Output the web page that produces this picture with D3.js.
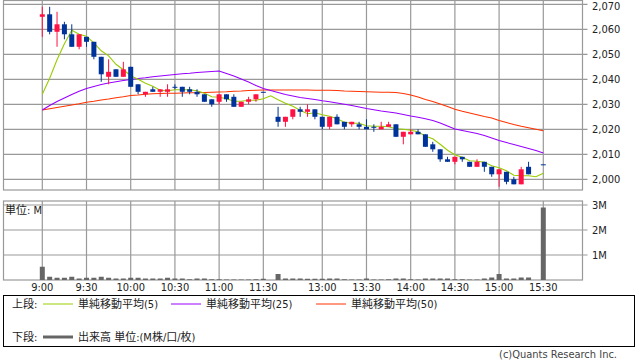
<!DOCTYPE html>
<html>
<head>
<meta charset="utf-8">
<script src="https://cdn.jsdelivr.net/npm/d3@7/dist/d3.min.js"></script>
<style>
  body { margin: 0; background: #fff; }
  svg { display: block; }
  text { font-family: "DejaVu Sans Condensed", "Noto Sans CJK JP", sans-serif; fill: #222; }
</style>
</head>
<body>
<svg id="chart" width="638" height="362"></svg>
<script>
// 5-minute slots, 0 = 9:00 ... 68 = 15:30 (slots 31 and 67 have no trade)
const opens  = [2065,2066,2059,2062,2058,2053,2057,2055,2049,2041,2044,2041,2045,2038,2034,2036,2035,2035,2037,2037,
                2036,2035,2034,2032,2031,2034,2033,2029,2031,2032,2035,null,2025,2023,2025,2028,2027,2028,2025,2021,
                2025,2023,2022,2022,2021,2021,2020,2021,2022,2017,2018,2019,2018,2014,2012,2008,2007,2009,2007,2005,
                2007,2005,2002,2003,2000,1998,2005,null,2006];
const highs  = [2069,2069,2067,2063,2062,2058,2057,2055,2049,2048,2044,2047,2045,2038,2035,2037,2036,2038,2038,2037,
                2037,2036,2034,2032,2034,2034,2034,2031,2033,2034,2035,null,2029,2025,2028,2029,2030,2028,2025,2025,
                2026,2023,2023,2023,2024,2022,2023,2023,2022,2019,2020,2020,2018,2015,2012,2009,2009,2009,2007,2008,
                2007,2005,2004,2003,2001,2005,2007,null,2006];
const lows   = [2057,2058,2053,2056,2053,2052,2053,2048,2039,2038,2041,2041,2037,2034,2033,2035,2033,2033,2036,2033,
                2034,2033,2031,2029,2030,2031,2029,2029,2030,2031,2035,null,2021,2021,2024,2025,2025,2024,2020,2020,
                2022,2020,2021,2020,2020,2019,2020,2021,2017,2014,2018,2018,2013,2011,2007,2007,2006,2007,2005,2005,
                2003,2001,1997,1998,1998,1998,2002,null,2006];
const closes = [2066,2059,2062,2058,2053,2058,2055,2049,2042,2043,2041,2044,2037,2035,2035,2035,2036,2036,2037,2035,
                2035,2034,2031,2030,2034,2032,2029,2031,2032,2034,2035,null,2023,2025,2028,2027,2028,2025,2021,2025,
                2022,2021,2023,2021,2020,2021,2021,2022,2017,2019,2019,2018,2013,2012,2008,2007,2009,2008,2005,2007,
                2005,2002,2004,1999,1998,2004,2002,null,2006];

// moving averages
const ma5  = [2034.0,2040.4,2047.8,2054.2,2059.6,2058.0,2057.2,2054.6,2051.4,2049.4,2046.0,2043.8,2041.4,2040.0,2038.4,2037.2,2035.6,2035.4,2035.8,2035.8,
              2035.8,2035.4,2034.4,2033.0,2032.8,2032.2,2031.2,2031.2,2031.6,2031.6,2032.2,2033.4,2031.8,2030.4,2029.2,2027.6,2026.2,2026.6,2025.8,2025.2,
              2024.2,2022.8,2022.4,2022.4,2021.4,2021.2,2021.2,2021.0,2020.2,2020.0,2019.6,2019.0,2017.2,2016.2,2014.0,2011.6,2009.8,2008.8,2007.4,2007.2,
              2006.8,2005.4,2004.6,2003.4,2001.6,2001.4,2001.4,2001.0,2002.4];
const ma25 = [2027.7,2029.5,2031.1,2032.5,2033.9,2035.2,2036.3,2037.1,2037.9,2038.5,2039.0,2039.5,2039.9,2040.3,2040.6,2041.0,2041.3,2041.6,2041.9,2042.2,
              2042.4,2042.7,2042.9,2043.1,2043.3,2042.3,2041.3,2040.1,2038.9,2037.5,2036.3,2035.5,2034.7,2033.9,2033.3,2032.7,2032.3,2031.9,2031.4,2031.0,
              2030.5,2030.0,2029.5,2028.9,2028.3,2027.8,2027.3,2026.9,2026.5,2025.9,2025.3,2024.8,2024.2,2023.5,2022.5,2021.3,2020.1,2019.5,2018.9,2018.3,
              2017.5,2016.5,2015.5,2014.7,2013.9,2013.1,2012.3,2011.5,2010.5];
const ma50 = [2027.7,2028.2,2028.7,2029.2,2029.7,2030.2,2030.8,2031.2,2031.7,2032.1,2032.6,2033.0,2033.5,2033.7,2034.0,2034.2,2034.3,2034.4,2034.4,2034.5,
              2034.6,2034.6,2034.7,2034.8,2034.9,2035.0,2035.2,2035.3,2035.5,2035.6,2035.7,2035.7,2035.7,2035.7,2035.7,2035.7,2035.7,2035.6,2035.6,2035.6,
              2035.5,2035.3,2035.2,2035.1,2035.0,2034.9,2034.8,2034.8,2034.7,2034.3,2033.7,2032.9,2031.9,2031.1,2030.1,2029.1,2028.0,2027.2,2026.5,2025.8,
              2025.1,2024.5,2023.5,2022.7,2021.9,2021.2,2020.6,2020.0,2019.4];

// volume in millions
const volumes = [0.53,0.13,0.09,0.09,0.13,0.06,0.09,0.09,0.13,0.09,0.06,0.06,0.09,0.09,0.06,0.06,0.06,0.09,0.06,0.06,
                 0.03,0.06,0.06,0.03,0.03,0.02,0.02,0.02,0.02,0.03,0.05,null,0.24,0.06,0.06,0.06,0.05,0.05,0.05,0.06,
                 0.06,0.03,0.02,0.02,0.06,0.02,0.02,0.03,0.06,0.06,0.03,0.02,0.06,0.06,0.06,0.06,0.03,0.03,0.02,0.02,
                 0.06,0.1,0.24,0.06,0.06,0.1,0.1,null,2.9];

const timeTicks  = [0, 6, 12, 18, 24, 30, 38, 44, 50, 56, 62, 68];
const timeLabels = ["9:00","9:30","10:00","10:30","11:00","11:30","13:00","13:30","14:00","14:30","15:00","15:30"];
const priceTicks = [2000, 2010, 2020, 2030, 2040, 2050, 2060, 2070];
const volTicks   = [1, 2, 3];
const volLabels  = ["1M", "2M", "3M"];

const colUp = "#ff1144", colDown = "#003399";
const colMa5 = "#99cc00", colMa25 = "#9900ff", colMa50 = "#ff3300";
const gridCol = "#999";

const svg = d3.select("#chart");
const left = 3.5, right = 582.5;

const x = d3.scaleLinear().domain([0, 68]).range([42.3, 543.3]);
const y = d3.scaleLinear().domain([2000, 2070]).range([179.3, 4.3]);
const yv = d3.scaleLinear().domain([0, 3]).range([280, 205]);

const slots = d3.range(closes.length);

//Grid - price panel
const gPrice = svg.append("g");
gPrice.selectAll(".hgrid").data(priceTicks).enter().append("line")
    .attr("x1", left).attr("x2", right + 5)
    .attr("y1", d => y(d)).attr("y2", d => y(d))
    .attr("stroke", gridCol).attr("stroke-width", 1.2);
gPrice.selectAll(".vgrid").data(timeTicks).enter().append("line")
    .attr("x1", d => x(d)).attr("x2", d => x(d))
    .attr("y1", 0.5).attr("y2", 190)
    .attr("stroke", gridCol).attr("stroke-width", 1.2);
gPrice.append("rect")
    .attr("x", left).attr("y", 0.5).attr("width", right - left).attr("height", 189.5)
    .attr("fill", "none").attr("stroke", gridCol).attr("stroke-width", 1.2);

// top label kept inside the picture
gPrice.selectAll(".plabel").data(priceTicks).enter().append("text")
    .attr("x", 592).attr("y", d => Math.max(y(d), 6.5)).attr("dy", "0.35em")
    .style("font-size", "11px")
    .text(d => d3.format(",")(d));

//Grid - volume panel
const gVol = svg.append("g");
gVol.selectAll(".hgrid").data(volTicks).enter().append("line")
    .attr("x1", left).attr("x2", right + 5)
    .attr("y1", d => yv(d)).attr("y2", d => yv(d))
    .attr("stroke", gridCol).attr("stroke-width", 1.2);
gVol.selectAll(".vgrid").data(timeTicks).enter().append("line")
    .attr("x1", d => x(d)).attr("x2", d => x(d))
    .attr("y1", 201).attr("y2", 280)
    .attr("stroke", gridCol).attr("stroke-width", 1.2);
gVol.append("rect")
    .attr("x", left).attr("y", 201).attr("width", right - left).attr("height", 79)
    .attr("fill", "none").attr("stroke", gridCol).attr("stroke-width", 1.2);

gVol.selectAll(".vlabel").data(volTicks).enter().append("text")
    .attr("x", 592).attr("y", d => yv(d)).attr("dy", "0.35em")
    .style("font-size", "11px")
    .text((d, i) => volLabels[i]);

gVol.append("text").attr("x", 5).attr("y", 214).style("font-size", "11px").text("単位: M");

svg.selectAll(".tlabel").data(timeTicks).enter().append("text")
    .attr("x", d => x(d)).attr("y", 291)
    .attr("text-anchor", "middle")
    .style("font-size", "11px")
    .text((d, i) => timeLabels[i]);

//Volume bars
gVol.selectAll(".vbar").data(slots.filter(i => volumes[i] !== null)).enter().append("rect")
    .attr("x", i => x(i) - 2.5).attr("width", 5)
    .attr("y", i => yv(volumes[i]))
    .attr("height", i => yv(0) - yv(volumes[i]))
    .attr("fill", "#666");

//Moving averages
const line = data => d3.line().x((d, i) => x(i)).y(d => y(d))(data);
[[ma50, colMa50], [ma25, colMa25], [ma5, colMa5]].forEach(function (m) {
    gPrice.append("path").attr("d", line(m[0]))
        .attr("fill", "none").attr("stroke", m[1]).attr("stroke-width", 1.1);
});

//Candles
const candle = gPrice.selectAll(".candle").data(slots.filter(i => closes[i] !== null)).enter().append("g");
const candleColor = i => closes[i] > opens[i] ? colUp : colDown;

candle.append("line")
    .attr("x1", i => x(i)).attr("x2", i => x(i))
    .attr("y1", i => y(highs[i])).attr("y2", i => y(lows[i]))
    .attr("stroke", candleColor).attr("stroke-width", 1);

candle.append("rect")
    .attr("x", i => x(i) - 2.5).attr("width", 5)
    .attr("y", i => y(Math.max(opens[i], closes[i])))
    .attr("height", i => Math.max(1, Math.abs(y(opens[i]) - y(closes[i]))))
    .attr("fill", candleColor);

//Legend
const legend = svg.append("g");
legend.append("rect").attr("x", 3.5).attr("y", 295.5).attr("width", 631).attr("height", 51)
    .attr("fill", "none").attr("stroke", "#000").attr("stroke-width", 1);

legend.append("text").attr("x", 12).attr("y", 308).style("font-size", "11px").text("上段:");
[[43, colMa5, "単純移動平均(5)"], [171, colMa25, "単純移動平均(25)"], [316, colMa50, "単純移動平均(50)"]]
    .forEach(function (d) {
        legend.append("line").attr("x1", d[0]).attr("x2", d[0] + 30).attr("y1", 304).attr("y2", 304)
            .attr("stroke", d[1]).attr("stroke-width", 1);
        legend.append("text").attr("x", d[0] + 35).attr("y", 308).style("font-size", "11px").text(d[2]);
    });

legend.append("text").attr("x", 12).attr("y", 341).style("font-size", "11px").text("下段:");
legend.append("line").attr("x1", 43).attr("x2", 73).attr("y1", 337).attr("y2", 337)
    .attr("stroke", "#666").attr("stroke-width", 3);
legend.append("text").attr("x", 78).attr("y", 341).style("font-size", "11px").text("出来高 単位:(M株/口/枚)");

svg.append("text").attr("x", 617).attr("y", 358).attr("text-anchor", "end")
    .style("font-size", "11px").style("fill", "#444").text("(c)Quants Research Inc.");
</script>
</body>
</html>
